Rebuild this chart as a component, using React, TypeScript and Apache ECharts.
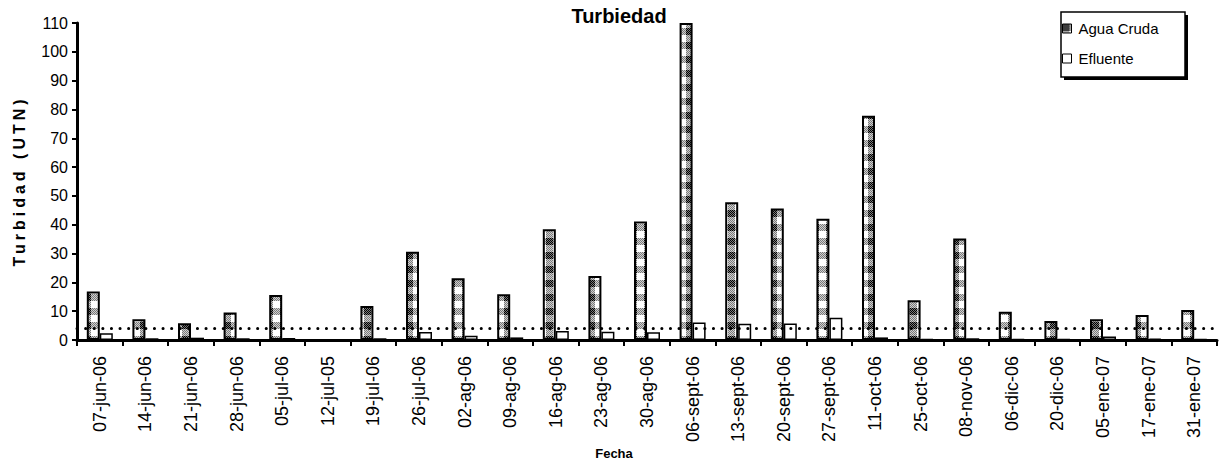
import React, { useEffect, useRef } from "react";
import * as echarts from "echarts";

const categories = [
  "07-jun-06", "14-jun-06", "21-jun-06", "28-jun-06", "05-jul-06", "12-jul-05",
  "19-jul-06", "26-jul-06", "02-ag-06", "09-ag-06", "16-ag-06", "23-ag-06",
  "30-ag-06", "06-sept-06", "13-sept-06", "20-sept-06", "27-sept-06", "11-oct-06",
  "25-oct-06", "08-nov-06", "06-dic-06", "20-dic-06", "05-ene-07", "17-ene-07", "31-ene-07",
];
const aguaCruda = [
  16.8, 7.2, 5.8, 9.5, 15.6, 0, 11.8, 30.6, 21.4, 15.9, 38.4, 22.2, 41.1, 110,
  47.8, 45.6, 42.1, 77.8, 13.8, 35.2, 9.8, 6.6, 7.2, 8.7, 10.4,
];
const efluente = [
  2.3, 0.6, 0.8, 0.6, 0.7, 0, 0.6, 2.8, 1.5, 0.9, 3.1, 2.9, 2.7, 6.1,
  5.6, 5.7, 7.7, 0.9, 0.4, 0.6, 0.4, 0.3, 1.2, 0.5, 0.3,
];
const limite = 4;
const yTicks = { min: 0, max: 110, interval: 10 };
const titleText = "Turbiedad";
const yName = "Turbidad (UTN)";
const xName = "Fecha";
const seriesNames = ["Agua Cruda", "Efluente"];

function makePattern(): HTMLCanvasElement {
  const c = document.createElement("canvas");
  c.width = 14;
  c.height = 14;
  const ctx = c.getContext("2d")!;
  for (let y = 0; y < 14; y++) {
    for (let x = 0; x < 14; x++) {
      const cx = x < 7 ? 0 : 1;
      const cy = y < 7 ? 0 : 1;
      const odd = (x + y) % 2 === 0;
      let col = "#ffffff";
      if (cx === 0 && cy === 0) col = odd ? "#000000" : "#7a7a7a";
      else if (cx === 1 && cy === 0) col = odd ? "#7a7a7a" : "#d0d0d0";
      else if (cx === 0 && cy === 1) col = odd ? "#7a7a7a" : "#d0d0d0";
      else col = "#ffffff";
      ctx.fillStyle = col;
      ctx.fillRect(x, y, 1, 1);
    }
  }
  return c;
}

export default function App() {
  const ref = useRef<HTMLDivElement>(null);
  useEffect(() => {
    if (!ref.current) return;
    const chart = echarts.init(ref.current, undefined, { renderer: "svg" });
    const pattern = makePattern();
    const font = "'Liberation Sans', Arial, sans-serif";
    chart.setOption({
      animation: false,
      backgroundColor: "#ffffff",
      grid: { left: 77, right: 7, top: 23, bottom: 124, containLabel: false },
      legend: {
        orient: "vertical",
        left: 1062,
        top: 21,
        padding: 0,
        itemWidth: 9,
        itemHeight: 9,
        itemGap: 15,
        icon: "rect",
        textStyle: { fontSize: 15, color: "#000", fontFamily: font, padding: [0, 0, 0, 2] },
        itemStyle: { borderWidth: 1, borderColor: "#000" },
        data: seriesNames,
        z: 10,
      },
      graphic: [
        { type: "rect", shape: { x: 1064, y: 15, width: 124, height: 65 }, style: { fill: "#000" }, z: 1 },
        { type: "rect", shape: { x: 1061, y: 12, width: 124, height: 65 }, style: { fill: "#fff", stroke: "#000", lineWidth: 1.5 }, z: 2 },
        {
          type: "text", x: 619, y: 16, z: 5,
          style: { text: titleText, fontSize: 20, fontWeight: "bold", fontFamily: font, fill: "#000", align: "center", verticalAlign: "middle" },
        },
        {
          type: "text", x: 19, y: 181, rotation: Math.PI / 2, z: 5,
          style: { text: yName, fontSize: 16, fontWeight: "bold", fontFamily: font, fill: "#000", align: "center", verticalAlign: "middle" },
        },
        {
          type: "text", x: 614, y: 453, z: 5,
          style: { text: xName, fontSize: 13, fontWeight: "bold", fontFamily: font, fill: "#000", align: "center", verticalAlign: "middle" },
        },
      ],
      xAxis: {
        type: "category",
        data: categories,
        boundaryGap: true,
        axisLine: { lineStyle: { color: "#000", width: 3 } },
        axisTick: { show: true, length: 6, lineStyle: { color: "#000", width: 2 }, alignWithLabel: false },
        axisLabel: { rotate: 90, interval: 0, margin: 16, fontSize: 18, color: "#000", fontFamily: font },
        splitLine: { show: false },
      },
      yAxis: {
        type: "value",
        min: yTicks.min,
        max: yTicks.max,
        interval: yTicks.interval,
        axisLine: { show: true, lineStyle: { color: "#000", width: 3 } },
        axisTick: { show: true, length: 5, lineStyle: { color: "#000", width: 2 } },
        axisLabel: { margin: 9, fontSize: 16, color: "#000", fontFamily: font },
        splitLine: { show: false },
      },
      series: [
        {
          name: seriesNames[0],
          type: "bar",
          data: aguaCruda,
          barWidth: 13,
          barGap: "0%",
          itemStyle: { color: { image: pattern, repeat: "repeat" }, borderColor: "#000", borderWidth: 2 },
        },
        {
          name: seriesNames[1],
          type: "bar",
          data: efluente,
          barWidth: 13,
          barGap: "0%",
          itemStyle: { color: "#ffffff", borderColor: "#000", borderWidth: 1.5 },
          markLine: {
            silent: true,
            symbol: "none",
            label: { show: false },
            lineStyle: { color: "#000", width: 3, type: [0.1, 8.5], cap: "round" },
            data: [{ yAxis: limite }],
          },
        },
      ],
    });
    ref.current.querySelectorAll("text").forEach((t) => {
      if (t.textContent === yName) t.setAttribute("letter-spacing", "4");
    });
    return () => chart.dispose();
  }, []);
  return <div ref={ref} style={{ width: 1224, height: 464, position: "absolute", left: 0, top: 0 }} />;
}
